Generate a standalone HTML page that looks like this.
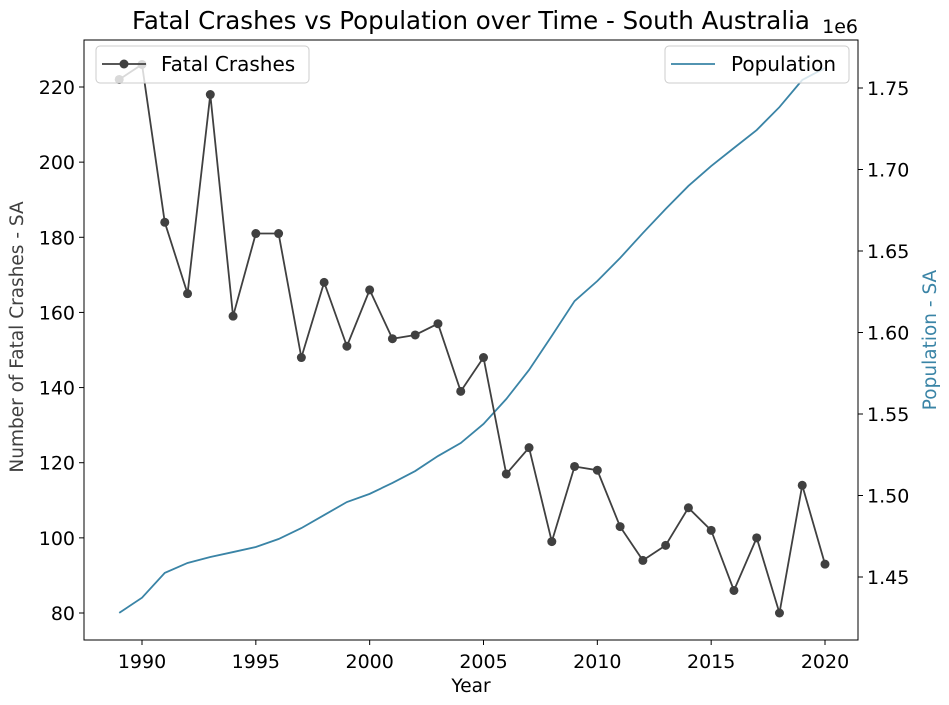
<!DOCTYPE html>
<html><head><meta charset="utf-8"><style>
body{margin:0;background:#fff;}
svg{display:block;font-family:"DejaVu Sans","Liberation Sans",sans-serif;}
</style></head><body>
<svg id="chart" width="949" height="705" xmlns="http://www.w3.org/2000/svg">
<rect width="949" height="705" fill="#fff"/>
</svg>
<script>
const years=[1989,1990,1991,1992,1993,1994,1995,1996,1997,1998,1999,2000,2001,2002,2003,2004,2005,2006,2007,2008,2009,2010,2011,2012,2013,2014,2015,2016,2017,2018,2019,2020];
const fatalCrashes=[222,226,184,165,218,159,181,181,148,168,151,166,153,154,157,139,148,117,124,99,119,118,103,94,98,108,102,86,100,80,114,93];
const populationM=[1.428,1.4373,1.4525,1.4586,1.4623,1.4653,1.4684,1.4733,1.480,1.488,1.496,1.501,1.5077,1.515,1.5242,1.5322,1.5439,1.5592,1.577,1.5979,1.6193,1.6316,1.6457,1.661,1.6758,1.6899,1.7021,1.7132,1.7242,1.7383,1.7549,1.7623];
const xTicks=[1990,1995,2000,2005,2010,2015,2020];
const leftTicks=[80,100,120,140,160,180,200,220];
const rightTicks=[1.45,1.50,1.55,1.60,1.65,1.70,1.75];

const L=84,R=858,T=40,B=640;
const xS=v=>142+(v-1990)*(825-142)/30;
const yL=v=>613-(v-80)*(613-87)/140;
const yR=v=>577-(v-1.45)*(577-88)/0.30;
const svg=document.getElementById('chart');
const NS='http://www.w3.org/2000/svg';
function mk(tag,attrs,parent){const e=document.createElementNS(NS,tag);for(const k in attrs)e.setAttribute(k,attrs[k]);(parent||svg).appendChild(e);return e;}
function txt(s,attrs,parent){const e=mk('text',attrs,parent);e.textContent=s;return e;}

const pop=mk('polyline',{points:years.map((y,i)=>xS(y)+','+yR(populationM[i])).join(' '),fill:'none',stroke:'#3a84a6','stroke-width':1.8});


const fl=mk('polyline',{points:years.map((y,i)=>xS(y)+','+yL(fatalCrashes[i])).join(' '),fill:'none',stroke:'#404040','stroke-width':1.8});


years.forEach((y,i)=>{
  const c=mk('circle',{cx:xS(y),cy:yL(fatalCrashes[i]),r:4.5,fill:'#404040'});
  
  
});
const fr=mk('rect',{x:L,y:T,width:R-L,height:B-T,fill:'none',stroke:'#000','stroke-width':1});


xTicks.forEach(v=>{
  mk('line',{x1:xS(v),x2:xS(v),y1:B,y2:B+5,stroke:'#000'});
  const t=txt(v,{x:xS(v),y:B+28,'text-anchor':'middle','font-size':19});
  
  
});
leftTicks.forEach(v=>{
  mk('line',{x1:L-5,x2:L,y1:yL(v),y2:yL(v),stroke:'#000'});
  const t=txt(v,{x:L-9,y:yL(v)+7,'text-anchor':'end','font-size':19});
  
  
});
rightTicks.forEach(v=>{
  mk('line',{x1:R,x2:R+5,y1:yR(v),y2:yR(v),stroke:'#000'});
  const t=txt(v.toFixed(2),{x:R+9,y:yR(v)+7,'font-size':19});
  
  
});
</script>
<svg style="position:absolute;left:0;top:0;font-family:'DejaVu Sans','Liberation Sans',sans-serif" width="949" height="705" xmlns="http://www.w3.org/2000/svg">
<text x="471" y="29" text-anchor="middle" font-size="24.5">Fatal Crashes vs Population over Time - South Australia</text>
<text x="858" y="33" text-anchor="end" font-size="19">1e6</text>
<text x="471" y="692" text-anchor="middle" font-size="18.5">Year</text>
<text transform="translate(23,337) rotate(-90)" text-anchor="middle" font-size="18.5" fill="#404040">Number of Fatal Crashes - SA</text>
<text transform="translate(936,340) rotate(-90)" text-anchor="middle" font-size="18.5" fill="#3a84a6">Population - SA</text>
<g>
<rect x="96" y="46" width="213" height="37" rx="4" fill="#fff" fill-opacity="0.8" stroke="#ccc"/>
<line x1="102" x2="146" y1="64" y2="64" stroke="#404040" stroke-width="1.8"/>
<circle cx="124" cy="64" r="4.5" fill="#404040"/>
<text x="161" y="71" font-size="20">Fatal Crashes</text>
</g>
<g>
<rect x="665" y="46" width="184" height="37" rx="4" fill="#fff" fill-opacity="0.8" stroke="#ccc"/>
<line x1="671" x2="715" y1="64" y2="64" stroke="#3a84a6" stroke-width="1.8"/>
<text x="731" y="71" font-size="20">Population</text>
</g>
</svg>
</body></html>
